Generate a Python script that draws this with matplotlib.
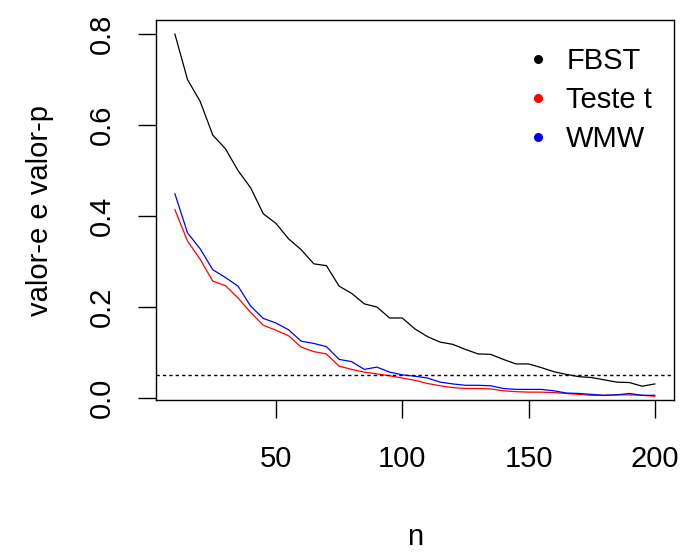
import matplotlib
matplotlib.use("Agg")
import matplotlib.pyplot as plt
from matplotlib.lines import Line2D
import numpy as np

plt.rcParams['font.family'] = ['Liberation Sans', 'DejaVu Sans']

n = list(range(10, 201, 5))
fbst = [0.800, 0.700, 0.652, 0.578, 0.548, 0.500, 0.462, 0.405, 0.384, 0.350,
        0.326, 0.295, 0.291, 0.246, 0.230, 0.207, 0.200, 0.176, 0.176, 0.152,
        0.135, 0.123, 0.118, 0.107, 0.097, 0.096, 0.085, 0.075, 0.075, 0.067,
        0.058, 0.052, 0.047, 0.045, 0.040, 0.035, 0.034, 0.026, 0.031]
teste_t = [0.414, 0.345, 0.305, 0.257, 0.247, 0.220, 0.188, 0.160, 0.149, 0.137,
           0.112, 0.102, 0.097, 0.070, 0.063, 0.057, 0.053, 0.049, 0.044, 0.039,
           0.032, 0.027, 0.023, 0.021, 0.021, 0.020, 0.016, 0.014, 0.013, 0.013,
           0.012, 0.010, 0.008, 0.006, 0.006, 0.007, 0.007, 0.006, 0.004]
wmw = [0.449, 0.363, 0.328, 0.282, 0.265, 0.246, 0.202, 0.175, 0.165, 0.150,
       0.125, 0.120, 0.113, 0.085, 0.080, 0.063, 0.068, 0.057, 0.051, 0.048,
       0.044, 0.035, 0.031, 0.028, 0.028, 0.027, 0.021, 0.019, 0.019, 0.019,
       0.016, 0.011, 0.010, 0.008, 0.006, 0.007, 0.010, 0.006, 0.006]
alpha = 0.05
legend_labels = ["FBST", "Teste t", "WMW"]
colors = ["black", "red", "blue"]
xticks = [50, 100, 150, 200]
yticks = [0.0, 0.2, 0.4, 0.6, 0.8]

W, H = 683, 553
fig = plt.figure(figsize=(W / 100, H / 100), dpi=100)
left, right, top, bottom = 155.7, 674, 20, 400.3
ax = fig.add_axes([left / W, 1 - bottom / H, (right - left) / W, (bottom - top) / H])

FS = 21
lw = 0.9
ax.plot(n, fbst, color=colors[0], lw=lw)
ax.plot(n, teste_t, color=colors[1], lw=lw)
ax.plot(n, wmw, color=colors[2], lw=lw)
ax.axhline(alpha, color="black", lw=1.0, linestyle=(0, (2.4, 2.2)))

# R-style 4% extension based on first plotted series
xr = max(n) - min(n)
ax.set_xlim(min(n) - 0.04 * xr, max(n) + 0.04 * xr)
yr = max(fbst) - min(fbst)
ax.set_ylim(min(fbst) - 0.04 * yr, max(fbst) + 0.04 * yr)

ax.set_xticks(xticks)
ax.set_xticklabels([str(v) for v in xticks])
ax.set_yticks(yticks)
ax.set_yticklabels([f"{v:.1f}" for v in yticks], rotation=90, va="center")
ax.tick_params(axis="both", direction="out", length=13, width=1.0,
               labelsize=FS, color="black")
ax.tick_params(axis="x", pad=19)
ax.tick_params(axis="y", pad=16)
for s in ax.spines.values():
    s.set_linewidth(1.0)
    s.set_color("black")

ax.set_xlabel("n", fontsize=FS, labelpad=36)
ax.set_ylabel("valor-e e valor-p", fontsize=FS, labelpad=24)

handles = [Line2D([], [], color=c, marker="o", linestyle="none", markersize=5.5)
           for c in colors]
ax.legend(handles, legend_labels, loc="upper left",
          bbox_to_anchor=(523.5 / W, 1 - 47 / H), bbox_transform=fig.transFigure,
          frameon=False, fontsize=FS, handlelength=1.0, handletextpad=0.47,
          borderpad=0, labelspacing=0.38, borderaxespad=0)

fig.savefig("out.png", dpi=100)
